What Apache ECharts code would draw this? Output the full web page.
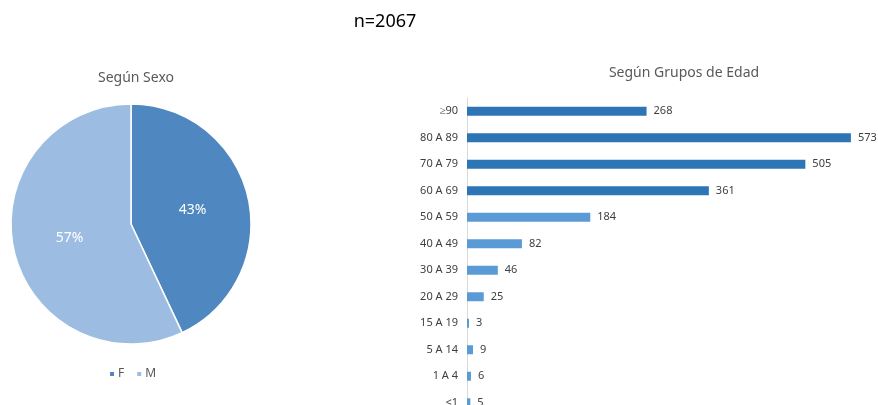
<!DOCTYPE html>
<html>
<head>
<meta charset="utf-8">
<script src="https://cdn.jsdelivr.net/npm/echarts@6/dist/echarts.min.js"></script>
<style>
html,body{margin:0;padding:0;background:#fff;overflow:hidden;}
#chart{width:878px;height:420px;}
</style>
</head>
<body>
<div id="chart"></div>
<script>
// datos
var sexos = ['F', 'M'];
var sexoPct = [43, 57];
var grupos = ['≥90', '80 A 89', '70 A 79', '60 A 69', '50 A 59', '40 A 49', '30 A 39', '20 A 29', '15 A 19', '5 A 14', '1 A 4', '<1'];
var conteos = [268, 573, 505, 361, 184, 82, 46, 25, 3, 9, 6, 5];

var font = 'Noto Sans';
var myChart = echarts.init(document.getElementById('chart'));

var option = {
	backgroundColor: '#fff',
	animation: false,
	title: [
		{text: 'n=2067', left: 380, top: 8, textAlign: 'center',
			textStyle: {fontFamily: font, fontSize: 18, fontWeight: 'normal', color: '#000'}},
		{text: 'Según Sexo', left: 131, top: 66, textAlign: 'center',
			textStyle: {fontFamily: font, fontSize: 14, fontWeight: 'normal', color: '#595959'}},
		{text: 'Según Grupos de Edad', left: 679, top: 61, textAlign: 'center',
			textStyle: {fontFamily: font, fontSize: 14, fontWeight: 'normal', color: '#595959'}}
	],
	legend: {
		data: sexos,
		left: 131 - 28,
		top: 363,
		itemWidth: 6,
		itemHeight: 6,
		itemGap: 11,
		icon: 'rect',
		textStyle: {fontFamily: font, fontSize: 12, color: '#595959', padding: [0, 0, 0, -2]}
	},
	color: ['#4f88c0', '#9cbde1'],
	grid: {left: 467, top: 98, width: 402, height: 318, containLabel: false},
	xAxis: {
		type: 'value', min: 0, max: 600, show: false
	},
	yAxis: {
		type: 'category',
		data: grupos,
		inverse: true,
		axisTick: {show: false},
		axisLine: {show: true, lineStyle: {color: '#d9d9d9', width: 1}},
		axisLabel: {fontFamily: font, fontSize: 11, color: '#404040', margin: 9}
	},
	series: [
		{
			type: 'pie',
			center: [131, 224],
			radius: ['0%', 120],
			startAngle: 90,
			clockwise: true,
			data: sexos.map(function(s, i){ return {name: s, value: sexoPct[i]}; }),
			itemStyle: {borderColor: '#fff', borderWidth: 1.5},
			label: {show: true, position: 'inside', formatter: '{c}%',
				fontFamily: font, fontSize: 14, color: '#fff'},
			labelLine: {show: false},
			emphasis: {disabled: true}
		},
		{
			type: 'bar',
			data: conteos,
			barWidth: 9,
			itemStyle: {
				color: function(p){ return p.dataIndex < 4 ? '#2e75b6' : '#5b9bd5'; }
			},
			label: {show: true, position: 'right', distance: 7,
				fontFamily: font, fontSize: 11, color: '#404040'}
		}
	]
};
myChart.setOption(option);
</script>
</body>
</html>
